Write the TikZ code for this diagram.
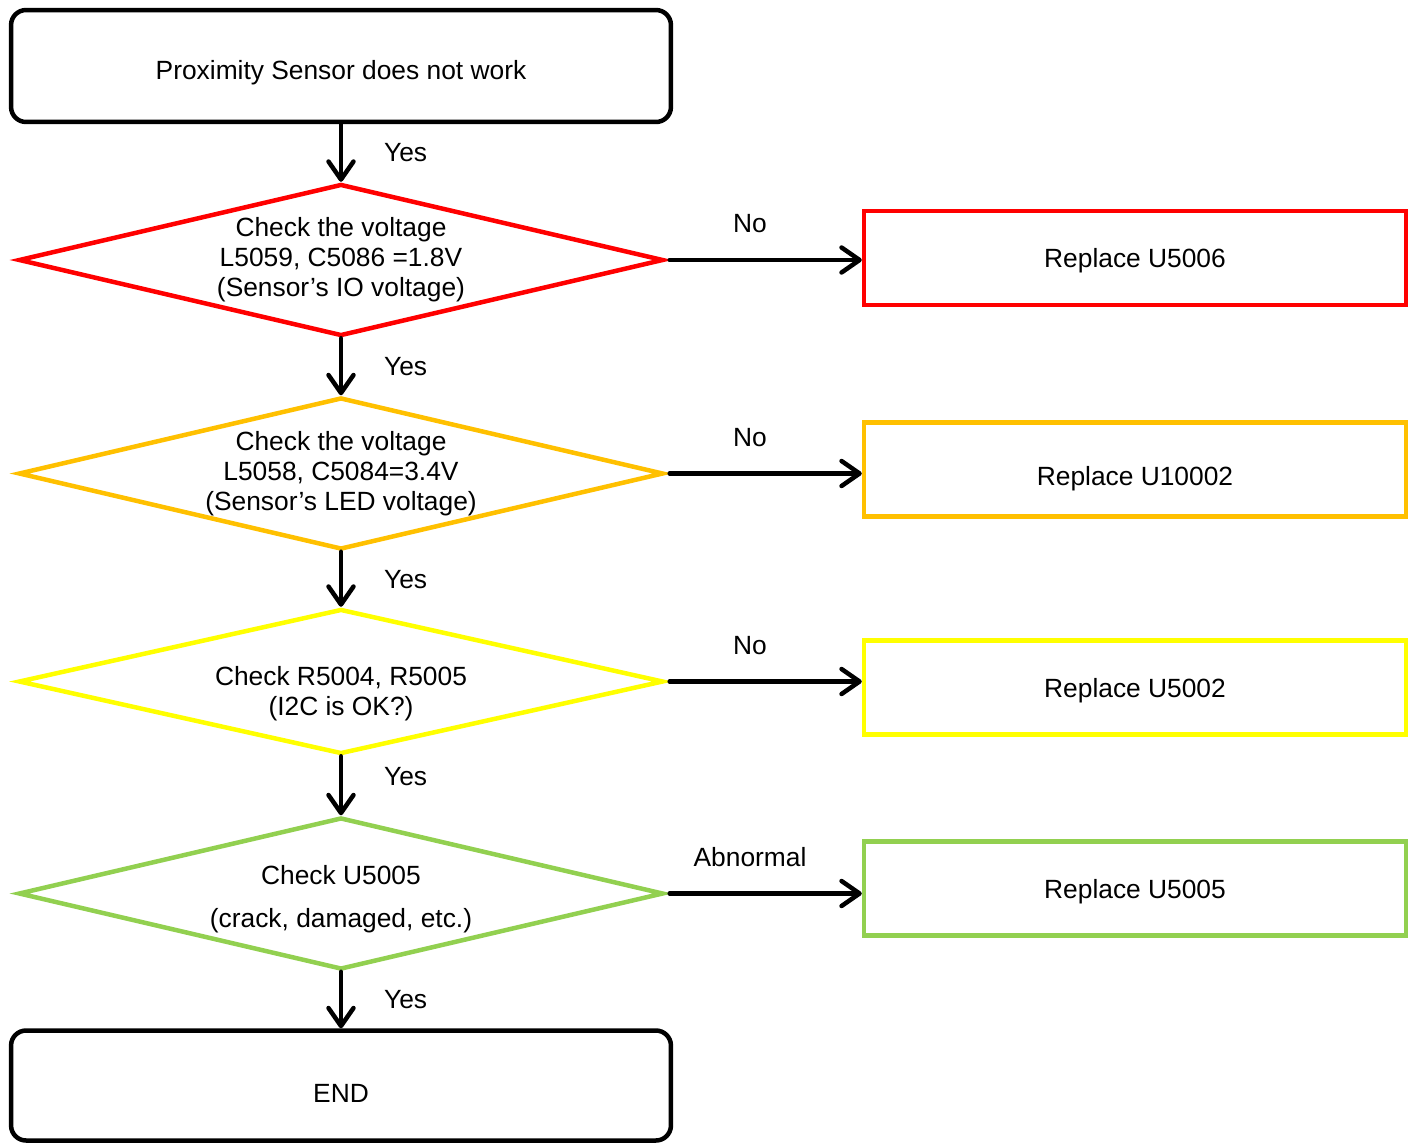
\documentclass[tikz,border=0pt]{standalone}
\usepackage{fontspec}
\setmainfont{Liberation Sans}
\usetikzlibrary{shapes.geometric,arrows.meta}

\definecolor{ioRed}{HTML}{FF0000}
\definecolor{ledOrange}{HTML}{FFC000}
\definecolor{busYellow}{HTML}{FFFF00}
\definecolor{partGreen}{HTML}{92D050}

\begin{document}
\begin{tikzpicture}[x=0.02cm,y=-0.02cm,
    every text node part/.style={align=center},
    font=\fontsize{15}{17}\selectfont,
    endbox/.style={draw,line width=0.09cm,rounded corners=0.3cm,
      minimum width=13.2cm,minimum height=2.24cm,text height=0.66cm},
    checkdia/.style={draw=#1,shape=diamond,line width=0.09cm,inner sep=0pt,
      aspect=4.3,minimum width=12.9cm,minimum height=3.04cm},
    fixbox/.style={draw=#1,line width=0.09cm,minimum width=10.84cm,
      minimum height=1.88cm,text height=0.5cm},
    flow/.style={line width=0.09cm,line cap=round,
      -{Straight Barb[length=0.36cm,width=0.5cm,round]}},
    yeslbl/.style={right=0.7cm},
    nolbl/.style={above=0.38cm,pos=0.43}]
  \useasboundingbox (0,0) rectangle (1414,1144);

  \node[endbox]              (StartN)   at (341,66)     {Proximity Sensor does not work};

  \node[checkdia=ioRed]      (IOvoltN)  at (341,260)    {Check the voltage\\L5059, C5086 =1.8V\\(Sensor’s IO voltage)};
  \node[checkdia=ledOrange]  (LEDvoltN) at (341,473.5)  {Check the voltage\\L5058, C5084=3.4V\\(Sensor’s LED voltage)};
  \node[checkdia=busYellow,minimum height=2.9cm]
                             (ItwocN)   at (341,681.5)  {\rule{0pt}{0.86cm}Check R5004, R5005\\(I2C is OK?)};
  \node[checkdia=partGreen]  (PartN)    at (341,893.5)  {\rule{0pt}{0.62cm}Check U5005\\[0.26cm](crack, damaged, etc.)};

  \node[endbox,minimum height=2.2cm]
                             (EndN)     at (341,1085.5) {END};

  \node[fixbox=ioRed]        (U5006R)   at (1135,258)   {Replace U5006};
  \node[fixbox=ledOrange,text height=0.74cm]
                             (U10002R)  at (1135,469.5) {Replace U10002};
  \node[fixbox=busYellow]    (U5002R)   at (1135,687.5) {Replace U5002};
  \node[fixbox=partGreen]    (U5005R)   at (1135,888.5) {Replace U5005};

  \draw[flow] (StartN.south)   -- node[yeslbl] {Yes} (IOvoltN.north);
  \draw[flow] (IOvoltN.south)  -- node[yeslbl] {Yes} (LEDvoltN.north);
  \draw[flow] (LEDvoltN.south) -- node[yeslbl] {Yes} (ItwocN.north);
  \draw[flow] (ItwocN.south)   -- node[yeslbl,pos=0.35] {Yes} (PartN.north);
  \draw[flow] (PartN.south)    -- node[yeslbl] {Yes} (EndN.north);

  \draw[flow,shorten <=0.08cm] (IOvoltN.east)  -- node[nolbl] {No}       (IOvoltN.east -| U5006R.west);
  \draw[flow,shorten <=0.08cm] (LEDvoltN.east) -- node[nolbl] {No}       (LEDvoltN.east -| U10002R.west);
  \draw[flow,shorten <=0.08cm] (ItwocN.east)   -- node[nolbl] {No}       (ItwocN.east -| U5002R.west);
  \draw[flow,shorten <=0.08cm] (PartN.east)    -- node[nolbl] {Abnormal} (PartN.east -| U5005R.west);
\end{tikzpicture}
\end{document}
